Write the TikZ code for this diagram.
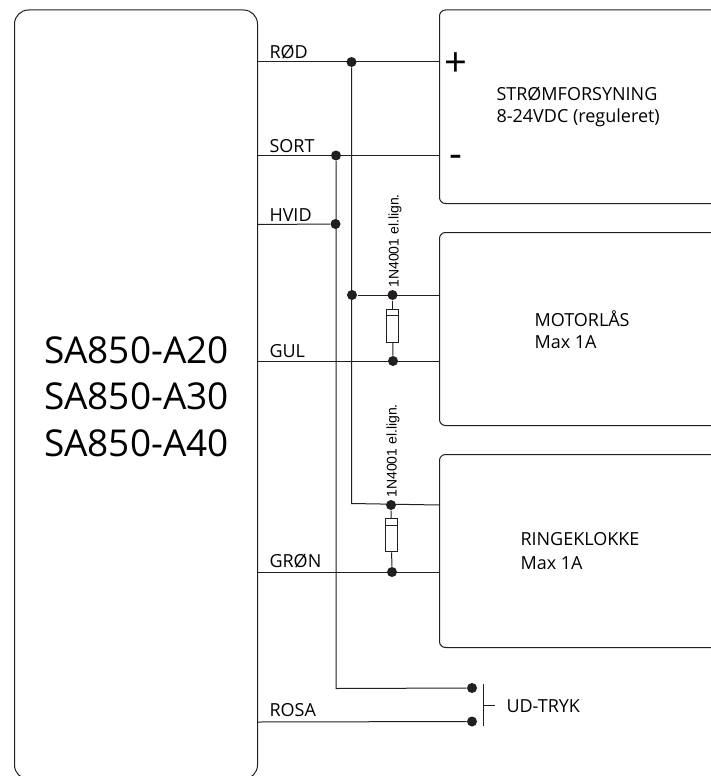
\documentclass[tikz,border=0pt]{standalone}
\usepackage{fontspec}
\setmainfont{Open Sans}
\newfontfamily\diodefont{Liberation Sans}
\usetikzlibrary{calc}
\definecolor{wire}{RGB}{35, 31, 32}
\newcommand{\lbl}{\fontsize{18}{20}\selectfont}
\tikzset{
  unit/.style={draw=wire, line width=1pt, rounded corners=6pt, anchor=north west, inner sep=0pt},
  dot/.style={circle, fill=wire, minimum size=10pt, inner sep=0pt},
  tag/.style={anchor=base west, inner sep=0pt, text=black, font=\lbl},
  model/.style={anchor=base, inner sep=0pt, text=black, font=\fontsize{37}{40}\selectfont},
  pole/.style={anchor=base, inner sep=0pt, text=black, font=\fontsize{40}{42}\selectfont},
  diode/.style={draw=wire, line width=1pt, fill=white, minimum width=12pt, minimum height=33pt, inner sep=0pt},
  dtext/.style={rotate=90, anchor=base west, inner sep=0pt, text=black, font=\diodefont\fontsize{14}{16}\selectfont}
}
\begin{document}
\begin{tikzpicture}[x=1pt, y=-1pt, line width=1pt, draw=wire]

  \clip (0, 0) rectangle (711, 776);
  \fill[white] (0, 0) rectangle (711, 776);

  % the four units
  \node[unit, minimum width=243pt, minimum height=769pt, rounded corners=14pt] (ctrl) at (14, 9.5) {};
  \node[unit, minimum width=290pt, minimum height=193.5pt] (psu) at (439, 9.5) {};
  \node[unit, minimum width=290pt, minimum height=193pt] (lock) at (439, 232) {};
  \node[unit, minimum width=290pt, minimum height=193pt] (bell) at (439, 454) {};

  \foreach \name/\y in {A20/363.5, A30/409.5, A40/456} {
    \node[model] (m\name) at (136.5, \y) {SA850-\name};
  }

  % wire colours
  \foreach \name/\y/\txt in {red/59/RØD, black/152/SORT, white/221.5/HVID, yellow/357/GUL, green/567/GRØN, pink/716/ROSA} {
    \node[tag] (t\name) at (269, \y) {\txt};
  }

  \coordinate (redL) at (ctrl.east |- 0, 61.5);
  \coordinate (redR) at (psu.west |- 0, 61.5);
  \coordinate (blackL) at (ctrl.east |- 0, 155.5);
  \coordinate (blackR) at (psu.west |- 0, 155.5);
  \coordinate (whiteL) at (ctrl.east |- 0, 224.5);
  \coordinate (yellowL) at (ctrl.east |- 0, 361);
  \coordinate (yellowR) at (lock.west |- 0, 361);
  \coordinate (greenL) at (ctrl.east |- 0, 572);
  \coordinate (greenR) at (bell.west |- 0, 572);
  \coordinate (pinkL) at (ctrl.east |- 0, 722);
  \coordinate (lockP) at (lock.west |- 0, 295);
  \coordinate (bellP) at (bell.west |- 0, 505);
  \coordinate (bendR) at (351.5, 503.5);
  \coordinate (bendB) at (336, 688.5);

  \node[dot] (d1) at (351.5, 62) {};
  \node[dot] (d2) at (336, 155.5) {};
  \node[dot] (d3) at (335.5, 224) {};
  \node[dot] (d4) at (352, 295) {};
  \node[dot] (d5) at (392.5, 295) {};
  \node[dot] (d6) at (393, 361) {};
  \node[dot] (d7) at (391, 505) {};
  \node[dot] (d8) at (392, 572) {};
  \node[dot] (d9) at (472, 688) {};
  \node[dot] (d10) at (472, 721.5) {};

  \draw (redL) -- (redR);
  \draw (blackL) -- (blackR);
  \draw (whiteL) -- (d3);
  \draw (yellowL) -- (yellowR);
  \draw (greenL) -- (greenR);
  \draw (pinkL) -- (d10);
  \draw (d1) -- (bendR) -- (bellP);
  \draw (d2) -- (bendB) -- (d9);
  \draw (d4) -- (lockP);

  % diodes
  \node[diode] (v1) at (392.5, 325.5) {};
  \node[diode] (v2) at (391.3, 535.3) {};
  \draw (d5) -- (v1);
  \draw (v1) -- (d6);
  \draw (d7) -- (v2);
  \draw (v2) -- (d8);
  \draw ($(v1.north west)+(0, 7.3)$) -- ($(v1.north east)+(0, 7.3)$);
  \draw ($(v2.north west)+(0, 7)$) -- ($(v2.north east)+(0, 7)$);
  \node[dtext] (n1) at (398.5, 288) {1N4001 el.lign.};
  \node[dtext] (n2) at (396.5, 498) {1N4001 el.lign.};

  % push button
  \coordinate (swT) at (483.5, 684);
  \coordinate (swB) at (483.5, 726);
  \coordinate (swM) at (483.5, 705);
  \coordinate (swS) at (495, 705);
  \draw (swT) -- (swB);
  \draw (swM) -- (swS);
  \node[tag] (tsw) at (506, 712.5) {UD-TRYK};

  \node[pole] (plus) at (456, 76) {+};
  \node[pole] (minus) at (455.5, 167.5) {-};

  \node[tag] (psu1) at (496, 100) {STRØMFORSYNING};
  \node[tag] (psu2) at (496, 122.5) {8-24VDC (reguleret)};
  \node[tag] (lock1) at (534, 326) {MOTORLÅS};
  \node[tag] (lock2) at (534, 348) {Max 1A};
  \node[tag] (bell1) at (520, 545.5) {RINGEKLOKKE};
  \node[tag] (bell2) at (520, 569) {Max 1A};

\end{tikzpicture}
\end{document}
